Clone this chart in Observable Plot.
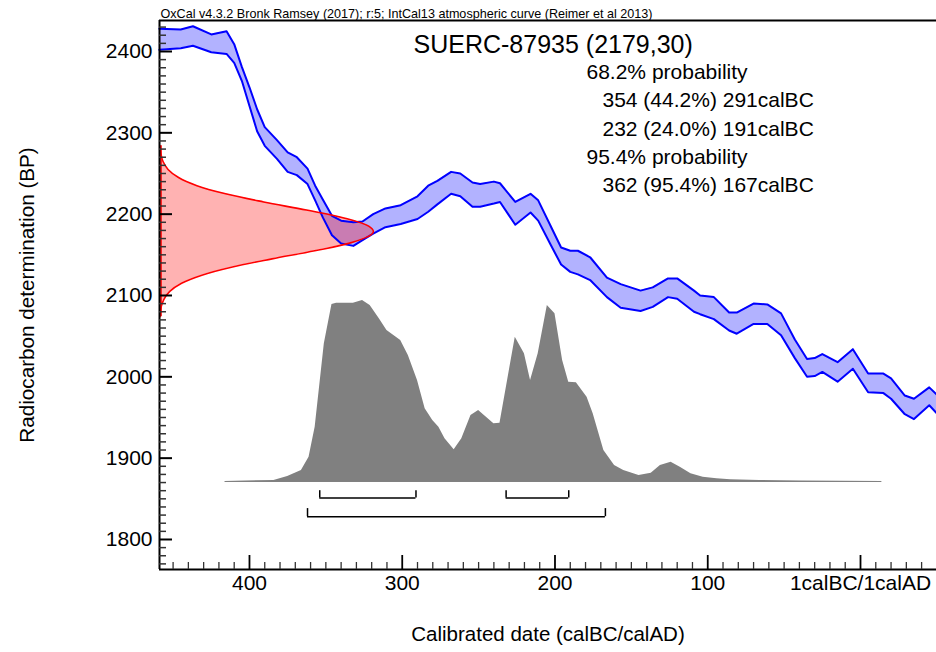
<!DOCTYPE html>
<html>
<head>
<meta charset="utf-8">
<script src="https://cdn.jsdelivr.net/npm/d3@7"></script>
<script src="https://cdn.jsdelivr.net/npm/@observablehq/plot@0.6"></script>
<style>
  html, body { margin: 0; padding: 0; background: #fff; }
  #chart { width: 936px; height: 652px; }
</style>
</head>
<body>
<div id="chart"></div>
<script>
// ---------- DATA ----------
const headerText = "OxCal v4.3.2 Bronk Ramsey (2017); r:5; IntCal13 atmospheric curve (Reimer et al 2013)";
const sampleName = "SUERC-87935";
const c14Age = 2179;
const c14Err = 30;

// IntCal13 calibration band (years calBC; negative = calAD)
const curveYears = [459,445,437,425,415,410,405,400,395,390,382,375,369,362,357,352,346,340,332,326,319,311,301,290,283,277,268,262,254,249,240,236,226,216,211,203,196,190,185,177,166,157,144,136,126,120,109,105,96,86,81,70,61,52,43,35,30,25,15,5,-5,-15,-20,-29,-35,-45,-50];
const curveUpper = [2428,2427,2431,2421,2425,2409,2381,2356,2329,2307,2291,2276,2270,2256,2235,2218,2198,2192,2190,2191,2200,2207,2211,2222,2235,2241,2252,2250,2239,2237,2240,2238,2215,2225,2217,2186,2159,2155,2155,2147,2122,2114,2106,2110,2121,2121,2106,2100,2098,2079,2079,2090,2089,2078,2046,2022,2023,2028,2018,2034,2004,2004,1998,1977,1973,1987,1978];
const curveLower = [2402,2404,2407,2399,2397,2386,2364,2333,2302,2284,2268,2252,2248,2237,2217,2196,2174,2164,2161,2168,2176,2184,2188,2194,2203,2212,2225,2222,2209,2209,2213,2215,2187,2202,2192,2163,2138,2129,2126,2119,2098,2085,2081,2086,2098,2096,2080,2077,2071,2057,2053,2065,2065,2051,2023,2000,2001,2006,1994,2010,1981,1980,1973,1954,1948,1965,1955];

// Radiocarbon measurement distribution (relative probability)
const dateBP   = [2074,2085,2095,2105,2115,2125,2135,2145,2155,2165,2175,2179,2185,2195,2205,2215,2225,2235,2245,2255,2265,2275,2284];
const dateProb = [0.002,0.007,0.02,0.048,0.103,0.198,0.341,0.526,0.726,0.897,0.991,1,0.98,0.867,0.687,0.487,0.309,0.175,0.089,0.04,0.016,0.006,0.002];

// Calibrated (posterior) distribution (relative probability)
const postYears = [416,384,375,366,361,357,351,346,343,332,326,321,315,310,301,296,290,285,280,276,272,266,261,255,250,240,236,226,220,216,211,205,200,195,191,186,179,175,168,161,155,145,137,131,124,118,111,103,94,85,66,39,-14];
const postProb  = [0,0.006,0.028,0.061,0.134,0.30,0.761,0.978,0.985,0.985,1.0,0.972,0.899,0.834,0.779,0.696,0.558,0.402,0.337,0.30,0.236,0.175,0.236,0.365,0.392,0.319,0.322,0.797,0.706,0.558,0.706,0.972,0.927,0.669,0.549,0.545,0.466,0.374,0.171,0.088,0.061,0.033,0.046,0.088,0.107,0.079,0.043,0.024,0.015,0.009,0.006,0.003,0];

// Calibrated ranges
const rangeFrom  = [354, 232, 362];
const rangeTo    = [291, 191, 167];
const rangePct   = ["44.2", "24.0", "95.4"];
const rangeLevel = ["68.2", "68.2", "95.4"];

// Axis ticks
const yTickValues = [1800, 1900, 2000, 2100, 2200, 2300, 2400];
const xTickValues = [400, 300, 200, 100, 0];
const xTickLabels = ["400", "300", "200", "100", "1calBC/1calAD"];

// ---------- LAYOUT / STYLE ----------
const W = 936, H = 652;
const mL = 159, mT = 20, mB = 83, mR = 0;
const xDomain = [458.9, -49.75];
const yDomain = [1763.1, 2438.1];
const xTickLen = 4.6, xTickLenMajor = 8.5;   // y-axis tick lengths, in year units
const yTickLen = 8.6, yTickLenMajor = 17.2;  // x-axis tick lengths, in BP units

const redWidthYears = 140;       // width of the measurement peak in year units
const postBaseBP = 1871.3;       // baseline of the calibrated distribution
const postHeightBP = 222.5;      // height of its peak
const lvl68 = 1851, lvl68Top = 1860;
const lvl95 = 1828, lvl95Top = 1838;

// ---------- TABLES ----------
const curve = curveYears.map((yr, i) => ({year: yr, upper: curveUpper[i], lower: curveLower[i]}));
const measure = dateBP.map((bp, i) => ({bp, p: dateProb[i]}));
const post = postYears.map((yr, i) => ({year: yr, p: postProb[i]}));
const ranges = rangeFrom.map((f, i) => ({from: f, to: rangeTo[i], pct: rangePct[i], level: rangeLevel[i]}));
const r68 = ranges.filter(r => r.level === "68.2");
const r95 = ranges.filter(r => r.level === "95.4");
const ends68 = r68.flatMap(r => [r.from, r.to]);
const ends95 = r95.flatMap(r => [r.from, r.to]);

const yMinor = d3.range(1770, 2440, 10).filter(v => v % 100 !== 0);
const xMinor = d3.range(-40, 460, 10).filter(v => v % 100 !== 0);

const rangeLine = r => `${r.from} (${r.pct}%) ${r.to}calBC`;

const textLines = [
  {t: `${rangeLevel[0]}% probability`, dx: 427, dy: 58.5},
  {t: rangeLine(ranges[0]), dx: 443, dy: 86.8},
  {t: rangeLine(ranges[1]), dx: 443, dy: 115},
  {t: `${rangeLevel[2]}% probability`, dx: 427, dy: 143.3},
  {t: rangeLine(ranges[2]), dx: 443, dy: 171.7}
];

const xL = xDomain[0];
const yB = yDomain[0];

const chart = Plot.plot({
  width: W,
  height: H,
  marginLeft: mL,
  marginTop: mT,
  marginBottom: mB,
  marginRight: mR,
  style: {fontFamily: "'Liberation Sans', Arial, sans-serif", fontSize: "21px", color: "black", background: "white", overflow: "visible"},
  x: {domain: xDomain},
  y: {domain: yDomain},
  marks: [
    // calibrated distribution
    Plot.areaY(post, {x: "year", y1: () => postBaseBP, y2: d => postBaseBP + d.p * postHeightBP, fill: "#808080", curve: "linear"}),
    Plot.ruleY([postBaseBP], {x1: postYears[0], x2: postYears[postYears.length - 1], stroke: "#808080", strokeWidth: 1}),
    // calibration curve band
    Plot.areaY(curve, {x: "year", y1: "lower", y2: "upper", fill: "#0000ff", fillOpacity: 0.3}),
    // measurement distribution
    Plot.areaX(measure, {y: "bp", x1: () => xL, x2: d => xL - d.p * redWidthYears, fill: "#ff0000", fillOpacity: 0.3, curve: "catmull-rom"}),
    Plot.line(curve, {x: "year", y: "upper", stroke: "#0000ff", strokeWidth: 2}),
    Plot.line(curve, {x: "year", y: "lower", stroke: "#0000ff", strokeWidth: 2}),
    Plot.line(measure, {y: "bp", x: d => xL - d.p * redWidthYears, stroke: "#ff0000", strokeWidth: 1.6, curve: "catmull-rom"}),
    Plot.ruleX([xL], {y1: dateBP[0], y2: dateBP[dateBP.length - 1], stroke: "#ff0000", strokeWidth: 1.6, dx: 1.5}),
    // range brackets
    Plot.ruleY(r68, {y: () => lvl68, x1: "from", x2: "to", stroke: "black", strokeWidth: 1.5}),
    Plot.ruleX(ends68, {x: d => d, y1: () => lvl68, y2: () => lvl68Top, stroke: "black", strokeWidth: 1.5}),
    Plot.ruleY(r95, {y: () => lvl95, x1: "from", x2: "to", stroke: "black", strokeWidth: 1.5}),
    Plot.ruleX(ends95, {x: d => d, y1: () => lvl95, y2: () => lvl95Top, stroke: "black", strokeWidth: 1.5}),
    // frame lines
    Plot.ruleY([yDomain[0]], {stroke: "black", strokeWidth: 2}),
    Plot.ruleY([yDomain[1]], {stroke: "black", strokeWidth: 2}),
    Plot.ruleX([xDomain[0]], {stroke: "black", strokeWidth: 2}),
    // ticks (inward)
    Plot.ruleY(yMinor, {y: d => d, x1: () => xL, x2: () => xL - xTickLen, stroke: "#333", strokeWidth: 1.5}),
    Plot.ruleY(yTickValues, {y: d => d, x1: () => xL, x2: () => xL - xTickLenMajor, stroke: "black", strokeWidth: 2}),
    Plot.ruleX(xMinor, {x: d => d, y1: () => yB, y2: () => yB + yTickLen, stroke: "#333", strokeWidth: 1.3}),
    Plot.ruleX(xTickValues, {x: d => d, y1: () => yB, y2: () => yB + yTickLenMajor, stroke: "black", strokeWidth: 1.8}),
    // axes labels
    Plot.axisY(yTickValues, {tickSize: 0, tickPadding: 7, fontSize: 21, label: null, tickFormat: d => String(d)}),
    Plot.axisX(xTickValues, {tickSize: 0, tickPadding: 6, fontSize: 21, label: null, tickFormat: d => xTickLabels[xTickValues.indexOf(d)]}),
    Plot.text(["Radiocarbon determination (BP)"], {frameAnchor: "left", dx: -132, rotate: -90, fontSize: 20.7, textAnchor: "middle", lineAnchor: "middle"}),
    Plot.text(["Calibrated date (calBC/calAD)"], {frameAnchor: "bottom", dy: 65, fontSize: 20.5, textAnchor: "middle", lineAnchor: "middle"}),
    // header + annotations
    Plot.text([headerText], {frameAnchor: "top-left", dx: 1, dy: -3, fontSize: 12.6, textAnchor: "start", lineAnchor: "bottom"}),
    Plot.text([`${sampleName} (${c14Age},${c14Err})`], {frameAnchor: "top-left", dx: 254, dy: 32, fontSize: 25, textAnchor: "start", lineAnchor: "bottom"}),
    ...textLines.map(l => Plot.text([l.t], {frameAnchor: "top-left", dx: l.dx, dy: l.dy, fontSize: 21, textAnchor: "start", lineAnchor: "bottom"}))
  ]
});
document.getElementById("chart").appendChild(chart);
</script>
</body>
</html>
